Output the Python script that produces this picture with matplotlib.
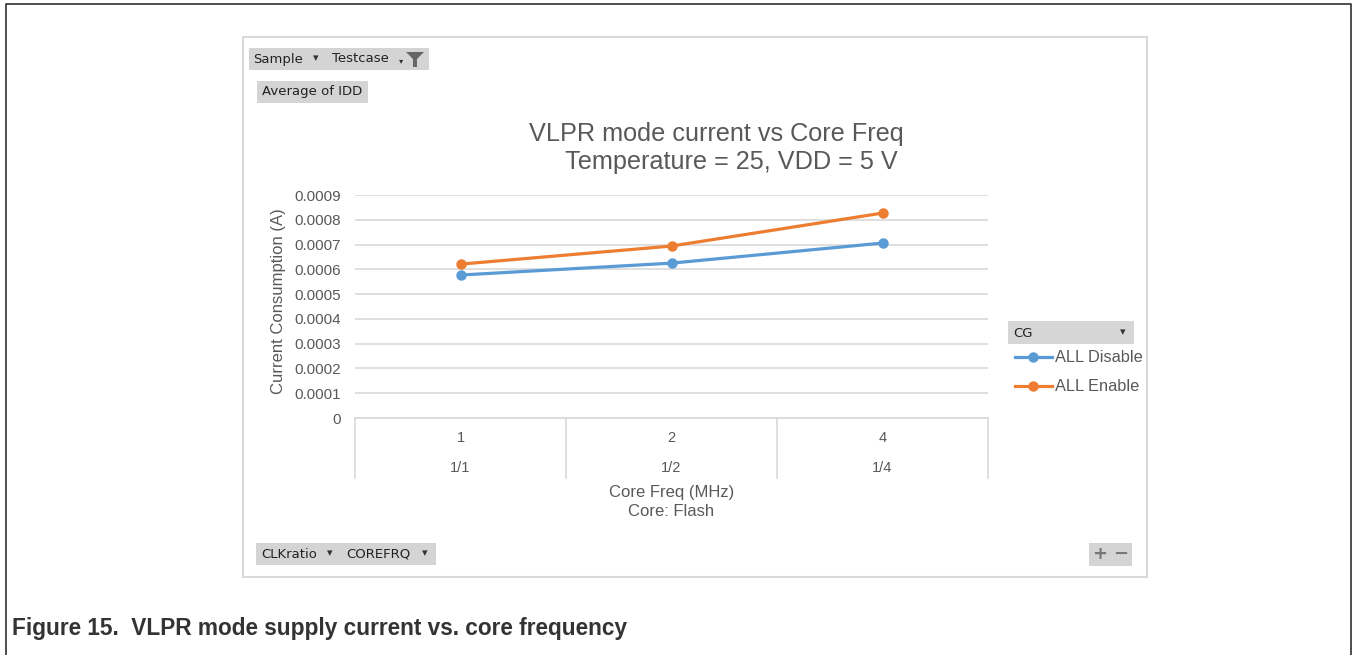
import matplotlib.pyplot as plt
from matplotlib.patches import Rectangle, Polygon
from matplotlib.lines import Line2D

# data
core_freq = ["1", "2", "4"]
clk_ratio = ["1/1", "1/2", "1/4"]
all_disable = [0.000577, 0.000625, 0.000706]
all_enable = [0.000621, 0.000694, 0.000827]
y_ticks = [0, 0.0001, 0.0002, 0.0003, 0.0004, 0.0005, 0.0006, 0.0007, 0.0008, 0.0009]
y_tick_labels = ["0", "0.0001", "0.0002", "0.0003", "0.0004", "0.0005",
                 "0.0006", "0.0007", "0.0008", "0.0009"]

W, H = 1353, 655
plt.rcParams['font.family'] = ['Liberation Sans', 'DejaVu Sans']
fig = plt.figure(figsize=(W / 100, H / 100), dpi=100)

TXT = '#595959'
BLUE = '#5B9BD5'
ORANGE = '#ED7D31'
GRID = '#D9D9D9'
BTN_FONT = ['DejaVu Sans']


def px(x, y):
    # pixel position -> figure fraction
    return x / W, 1 - y / H


def rect_px(x0, y0, x1, y1, **kw):
    a, b = px(x0, y1)
    r = Rectangle((a, b), (x1 - x0) / W, (y1 - y0) / H, transform=fig.transFigure, **kw)
    fig.add_artist(r)


# outer page frame
fig.add_artist(Line2D([6 / W, 6 / W, 1351 / W, 1351 / W], [0, 1 - 4 / H, 1 - 4 / H, 0],
                      transform=fig.transFigure, color='#404040', lw=1.3))

# chart area border
rect_px(243, 37, 1147, 577, facecolor='none', edgecolor='#D9D9D9', lw=1.5)

##############################################
# main axes
ax = fig.add_axes([355 / W, 1 - 418 / H, (988 - 355) / W, (418 - 195) / H])
ax.set_zorder(2)
ax.patch.set_alpha(0)
x = list(range(len(core_freq)))
ax.plot(x, all_disable, color=BLUE, lw=2.3, marker='o', ms=6.5, label='ALL Disable',
        solid_capstyle='round', zorder=3)
ax.plot(x, all_enable, color=ORANGE, lw=2.3, marker='o', ms=6.5, label='ALL Enable',
        solid_capstyle='round', zorder=3)

ax.set_xlim(-0.5, len(core_freq) - 0.5)
ax.set_ylim(0, 0.0009)
ax.set_yticks(y_ticks)
ax.set_yticklabels(y_tick_labels, color=TXT, fontsize=11)
ax.yaxis.grid(True, color=GRID, lw=1.2)
ax.set_axisbelow(True)
ax.tick_params(axis='y', length=0, pad=10)
ax.tick_params(axis='x', length=0, labelbottom=False)
for s in ['top', 'right', 'left']:
    ax.spines[s].set_visible(False)
ax.spines['bottom'].set_color(GRID)
ax.spines['bottom'].set_linewidth(1.2)

# multi-level category table under the axis
tr = ax.get_xaxis_transform()
for b in [i - 0.5 for i in range(len(core_freq) + 1)]:
    ax.plot([b, b], [0, -60 / 223], transform=tr, color=GRID, lw=1.2, clip_on=False)
for i, (f, r) in enumerate(zip(core_freq, clk_ratio)):
    ax.text(i, -20 / 223, f, transform=tr, ha='center', va='center', color=TXT, fontsize=10.5)
    ax.text(i, -50 / 223, r, transform=tr, ha='center', va='center', color=TXT, fontsize=10.5)

ax.text(0.5, -74 / 223, 'Core Freq (MHz)', transform=ax.transAxes, ha='center', va='center',
        color=TXT, fontsize=12)
ax.text(0.5, -93 / 223, 'Core: Flash', transform=ax.transAxes, ha='center', va='center',
        color=TXT, fontsize=12)
fig.text(*px(278, 301), 'Current Consumption (A)', rotation=90, ha='center', va='center',
         color=TXT, fontsize=12)

# title
fig.text(*px(716, 134), 'VLPR mode current vs Core Freq', ha='center', va='center',
         color=TXT, fontsize=18.2)
fig.text(*px(731, 162), 'Temperature = 25, VDD = 5 V', ha='center', va='center',
         color=TXT, fontsize=18.2)

##############################################
# legend with the CG field button
rect_px(1008, 321, 1134, 344, facecolor='#D6D6D6', edgecolor='none')
fig.text(*px(1013, 333), 'CG', ha='left', va='center', fontsize=9.5, color='#222222',
         family=BTN_FONT)
fig.text(*px(1123, 332), '▾', ha='center', va='center', fontsize=8, color='#333333',
         family=BTN_FONT)
for yy, c, lab in [(357, BLUE, 'ALL Disable'), (386, ORANGE, 'ALL Enable')]:
    fig.add_artist(Line2D([1015 / W, 1052 / W], [1 - yy / H] * 2, transform=fig.transFigure,
                          color=c, lw=2.3))
    fig.add_artist(Line2D([1033 / W], [1 - yy / H], transform=fig.transFigure, color=c,
                          marker='o', ms=6.5))
    fig.text(*px(1055, yy), lab, ha='left', va='center', color=TXT, fontsize=11.8)

##############################################
# pivot field buttons
BTN = '#D4D4D4'
rect_px(249, 48, 429, 70, facecolor=BTN, edgecolor='none')
fig.text(*px(253, 59), 'Sample', ha='left', va='center', fontsize=9.5, color='#222222',
         family=BTN_FONT)
fig.text(*px(316, 58), '▾', ha='center', va='center', fontsize=8, color='#333333',
         family=BTN_FONT)
fig.text(*px(332, 59), 'Testcase', ha='left', va='center', fontsize=9.5, color='#222222',
         family=BTN_FONT)
fig.text(*px(401, 61), '▾', ha='center', va='center', fontsize=6, color='#333333',
         family=BTN_FONT)
fig.add_artist(Polygon([px(406, 52), px(424, 52), px(417, 59), px(417, 67), px(413, 67),
                        px(413, 59)], closed=True, transform=fig.transFigure,
                       facecolor='#666666', edgecolor='none'))

rect_px(257, 81, 368, 103, facecolor=BTN, edgecolor='none')
fig.text(*px(262, 92), 'Average of IDD', ha='left', va='center', fontsize=9.5, color='#222222',
         family=BTN_FONT)

rect_px(256, 543, 436, 565, facecolor=BTN, edgecolor='none')
fig.text(*px(261, 554), 'CLKratio', ha='left', va='center', fontsize=9.5, color='#222222',
         family=BTN_FONT)
fig.text(*px(330, 553), '▾', ha='center', va='center', fontsize=8, color='#333333',
         family=BTN_FONT)
fig.text(*px(346, 554), 'COREFRQ', ha='left', va='center', fontsize=9.5, color='#222222',
         family=BTN_FONT)
fig.text(*px(425, 553), '▾', ha='center', va='center', fontsize=8, color='#333333',
         family=BTN_FONT)

rect_px(1089, 543, 1132, 566, facecolor=BTN, edgecolor='none')
fig.text(*px(1100, 554), '+', ha='center', va='center', fontsize=13, color='#777777',
         family=BTN_FONT, fontweight='bold')
fig.text(*px(1121, 554), '−', ha='center', va='center', fontsize=13, color='#777777',
         family=BTN_FONT, fontweight='bold')

# caption
fig.text(*px(12, 628), 'Figure 15.  VLPR mode supply current vs. core frequency', ha='left',
         va='center', fontsize=16.3, color='#333333', fontweight='bold')

fig.savefig('out.png', dpi=100)
